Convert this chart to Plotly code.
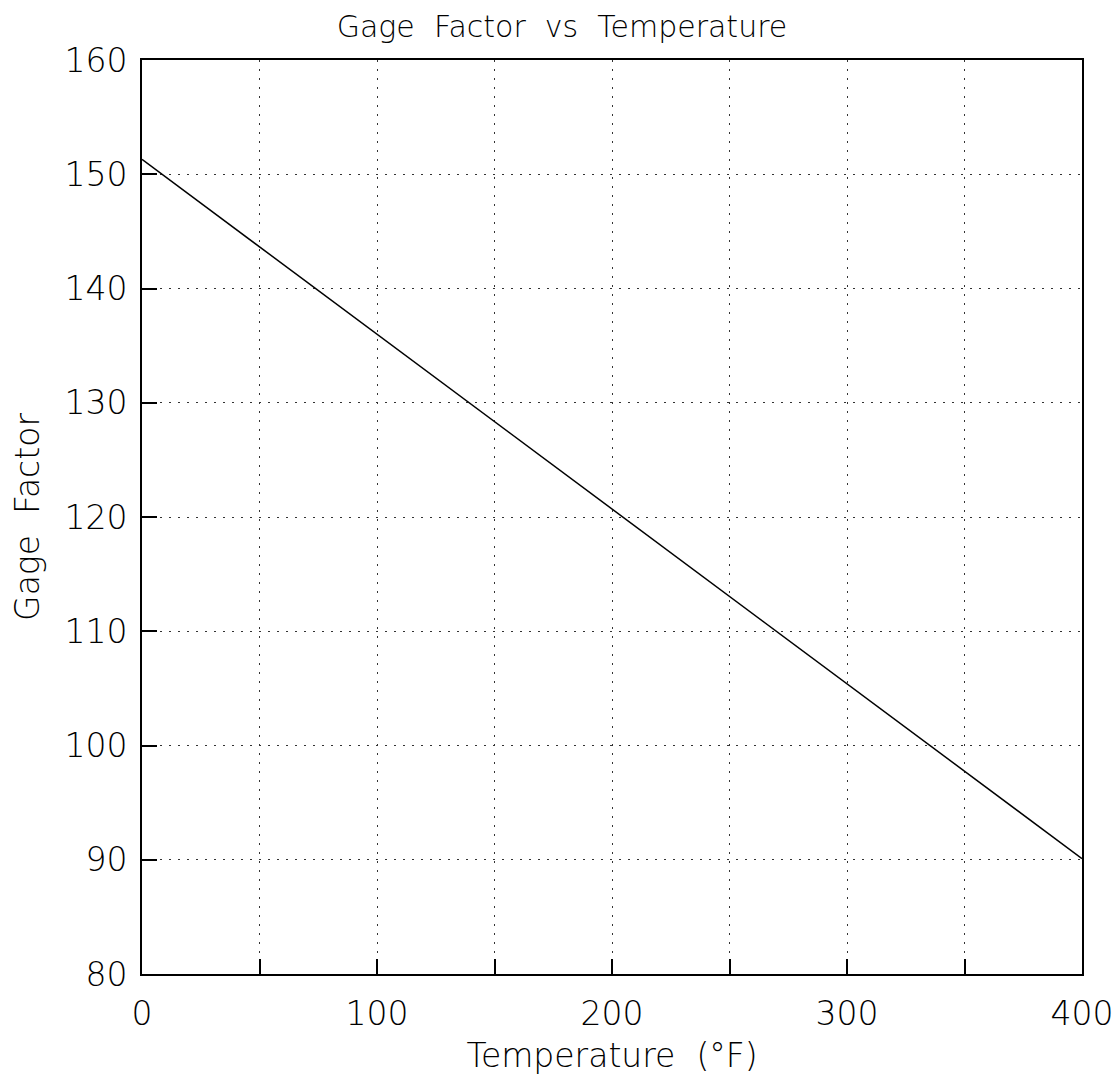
import plotly.graph_objects as go

temperature_f = [0, 400]
gage_factor = [151.3, 90.1]

x_tick_vals = [0, 50, 100, 150, 200, 250, 300, 350, 400]
x_tick_text = ["0", "", "100", "", "200", "", "300", "", "400"]
y_ticks = [80, 90, 100, 110, 120, 130, 140, 150, 160]

FONT = "DejaVu Sans"
WEIGHT = 200

fig = go.Figure()
fig.add_trace(go.Scatter(
    x=temperature_f, y=gage_factor, mode="lines",
    line=dict(color="black", width=1.5), showlegend=False,
))

axis_common = dict(
    showline=True, linecolor="black", linewidth=2, mirror=True,
    ticks="inside", ticklen=15, tickwidth=1.5, tickcolor="black",
    showgrid=True, gridcolor="#333333", gridwidth=1.3, griddash="2px,7px",
    zeroline=False, automargin=False,
    tickfont=dict(family=FONT, size=33, color="black", weight=WEIGHT),
)

fig.update_xaxes(
    range=[0, 400], tickvals=x_tick_vals, ticktext=x_tick_text,
    ticklabelstandoff=9,
    title=dict(text="Temperature  (°F)", font=dict(family=FONT, size=33, color="black", weight=WEIGHT), standoff=12),
    **axis_common,
)
fig.update_yaxes(
    range=[80, 160], tickvals=y_ticks,
    ticklabelstandoff=6,
    title=dict(text="Gage  Factor", font=dict(family=FONT, size=33, color="black", weight=WEIGHT), standoff=26),
    **axis_common,
)

fig.update_layout(
    width=1112, height=1070,
    margin=dict(l=134, r=38, t=52, b=104, autoexpand=False),
    paper_bgcolor="white", plot_bgcolor="white",
    title=dict(text="Gage  Factor  vs  Temperature", x=554 / 1112, xanchor="center",
               y=1 - 18 / 1070, yanchor="middle",
               font=dict(family=FONT, size=30, color="black", weight=WEIGHT)),
)

fig.write_html("out.html")
